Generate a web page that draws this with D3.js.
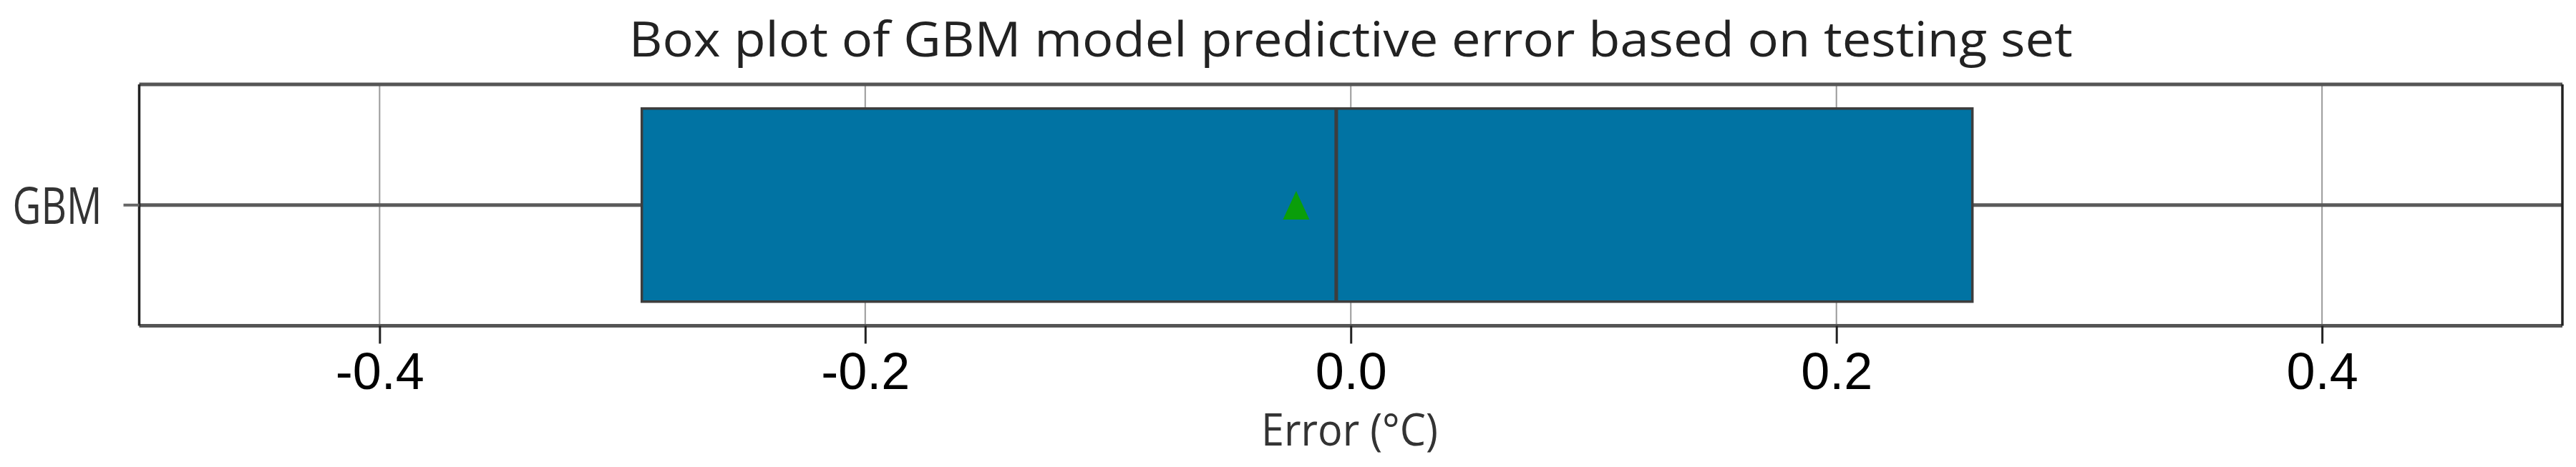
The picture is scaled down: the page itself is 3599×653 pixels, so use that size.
<!DOCTYPE html>
<html>
<head>
<meta charset="utf-8">
<script src="https://cdn.jsdelivr.net/npm/d3@7"></script>
<style>
html,body{margin:0;padding:0;background:#fff;}
svg{display:block;}
</style>
</head>
<body>
<svg id="chart" width="3599" height="653"></svg>
<script>
// ---- data ----
const categories = ["GBM"];
const q1Values = [-0.292];
const medianValues = [-0.006];
const q3Values = [0.256];
const meanValues = [-0.0225];
const whiskerLow = [-0.62];
const whiskerHigh = [0.60];
const xTicks = [-0.4, -0.2, 0.0, 0.2, 0.4];
const xTickLabels = ["-0.4", "-0.2", "0.0", "0.2", "0.4"];
const titleText = "Box plot of GBM model predictive error based on testing set";
const xLabelText = "Error (°C)";

const W = 3599, H = 653;
const plot = {left: 194.5, right: 3580, top: 118, bottom: 455.5};

const svg = d3.select("#chart");
const x = d3.scaleLinear().domain([-0.499, 0.499]).range([plot.left, plot.right]);
const y = d3.scaleBand().domain(categories).range([plot.top, plot.bottom]).paddingInner(0.2).paddingOuter(0.1);

svg.append("defs").append("clipPath").attr("id","clip")
  .append("rect").attr("x",plot.left).attr("y",plot.top)
  .attr("width",plot.right-plot.left).attr("height",plot.bottom-plot.top);

// grid
svg.append("g").selectAll("line").data(xTicks).join("line")
  .attr("x1",d=>x(d)).attr("x2",d=>x(d))
  .attr("y1",plot.top).attr("y2",plot.bottom)
  .attr("stroke","#9a9a9a").attr("stroke-width",2);

const data = categories.map((c,i)=>({c, q1:q1Values[i], med:medianValues[i], q3:q3Values[i], mean:meanValues[i], lo:whiskerLow[i], hi:whiskerHigh[i]}));

const g = svg.append("g").attr("clip-path","url(#clip)");
data.forEach(d=>{
  const cy = y(d.c)+y.bandwidth()/2;
  g.append("line").attr("x1",x(d.lo)).attr("x2",x(d.q1)).attr("y1",cy).attr("y2",cy)
    .attr("stroke","#5a5a5a").attr("stroke-width",5);
  g.append("line").attr("x1",x(d.q3)).attr("x2",x(d.hi)).attr("y1",cy).attr("y2",cy)
    .attr("stroke","#5a5a5a").attr("stroke-width",5);
  g.append("rect").attr("x",x(d.q1)).attr("y",y(d.c))
    .attr("width",x(d.q3)-x(d.q1)).attr("height",y.bandwidth())
    .attr("fill","#0173a3").attr("stroke","#3d3d3d").attr("stroke-width",3.5);
  g.append("line").attr("x1",x(d.med)).attr("x2",x(d.med))
    .attr("y1",y(d.c)).attr("y2",y(d.c)+y.bandwidth())
    .attr("stroke","#3d3d3d").attr("stroke-width",5);
  g.append("path")
    .attr("d", d3.symbol(d3.symbolTriangle, 700)())
    .attr("transform",`translate(${x(d.mean)},${cy+7}) scale(0.92,1.15)`)
    .attr("fill","#0a9e0a");
});

// frame
svg.append("line").attr("x1",plot.left).attr("x2",plot.right).attr("y1",plot.top).attr("y2",plot.top)
  .attr("stroke","#555").attr("stroke-width",5);
svg.append("line").attr("x1",plot.left).attr("x2",plot.right).attr("y1",plot.bottom).attr("y2",plot.bottom)
  .attr("stroke","#555").attr("stroke-width",5);
svg.append("line").attr("x1",plot.left).attr("x2",plot.left).attr("y1",plot.top).attr("y2",plot.bottom)
  .attr("stroke","#222").attr("stroke-width",3.5);
svg.append("line").attr("x1",plot.right).attr("x2",plot.right).attr("y1",plot.top).attr("y2",plot.bottom)
  .attr("stroke","#222").attr("stroke-width",3.5);

// x axis
const xAxis = d3.axisBottom(x).tickValues(xTicks).tickFormat((d,i)=>xTickLabels[i]).tickSize(25).tickPadding(12);
const xa = svg.append("g").attr("transform",`translate(0,${plot.bottom})`).call(xAxis);
xa.select(".domain").remove();
xa.selectAll(".tick line").attr("stroke","#222").attr("stroke-width",3);
xa.selectAll(".tick text").attr("font-family","'Liberation Sans', Arial, sans-serif")
  .attr("font-size",72).attr("fill","#000");

// y axis
const yAxis = d3.axisLeft(y).tickSize(22).tickPadding(30);
const ya = svg.append("g").attr("transform",`translate(${plot.left},0)`).call(yAxis);
ya.select(".domain").remove();
ya.selectAll(".tick line").attr("stroke","#666").attr("stroke-width",4);
ya.selectAll(".tick text").attr("font-family","'Open Sans', sans-serif")
  .attr("font-size",72).attr("fill","#333")
  .attr("textLength",125).attr("lengthAdjust","spacingAndGlyphs")
  .attr("dy",null).attr("dominant-baseline","auto")
  .attr("y",26);

// title
svg.append("text").attr("x",(plot.left+plot.right)/2).attr("y",79)
  .attr("text-anchor","middle").attr("font-family","'Open Sans', sans-serif")
  .attr("font-size",67).attr("fill","#222")
  .attr("textLength",2017).attr("lengthAdjust","spacingAndGlyphs")
  .text(titleText);

// x label
svg.append("text").attr("x",1885.5).attr("y",623)
  .attr("text-anchor","middle").attr("font-family","'Open Sans', sans-serif")
  .attr("font-size",62).attr("fill","#333")
  .attr("textLength",247).attr("lengthAdjust","spacingAndGlyphs")
  .text(xLabelText);
</script>
</body>
</html>
